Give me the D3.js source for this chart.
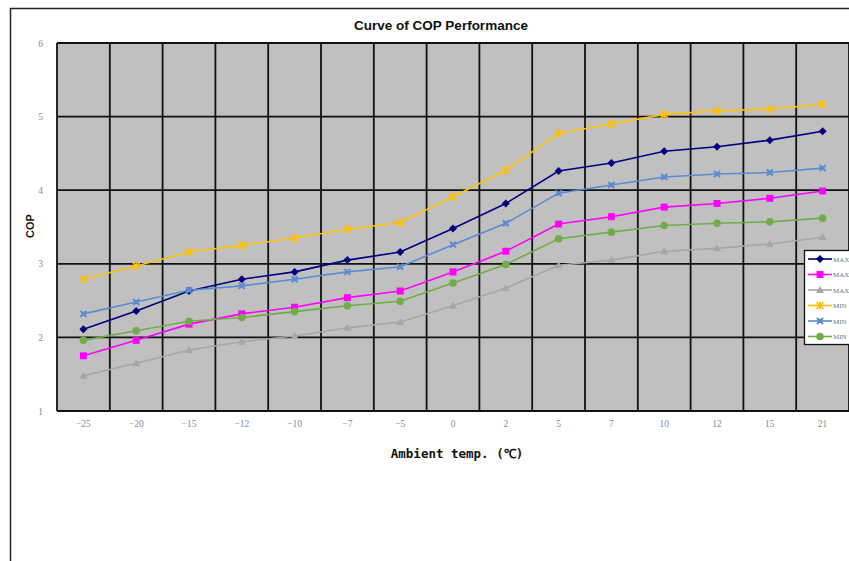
<!DOCTYPE html>
<html><head><meta charset="utf-8">
<script src="https://cdn.jsdelivr.net/npm/d3@7"></script>
<style>body{margin:0;background:#fff}svg{display:block}</style>
</head><body>
<svg id="c" width="849" height="561"></svg>
<script>
const categories = ["-25","-20","-15","-12","-10","-7","-5","0","2","5","7","10","12","15","21"];
const seriesNames = ["MAX","MAX","MAX","MIN","MIN","MIN"];
const seriesColors = ["#000080","#ff00ff","#a6a6a6","#ffc000","#5b8bd0","#70ad47"];
const seriesMarkers = ["diamond","square","triangle","star","cross","circle"];
const maxNavy  = [2.11,2.36,2.63,2.79,2.89,3.05,3.16,3.48,3.82,4.26,4.37,4.53,4.59,4.68,4.80];
const maxPink  = [1.75,1.96,2.18,2.32,2.41,2.54,2.63,2.89,3.17,3.54,3.64,3.77,3.82,3.89,3.99];
const maxGray  = [1.48,1.65,1.83,1.94,2.02,2.13,2.21,2.43,2.67,2.98,3.05,3.17,3.21,3.27,3.36];
const minGold  = [2.79,2.97,3.16,3.25,3.35,3.47,3.56,3.91,4.27,4.77,4.90,5.03,5.08,5.10,5.17];
const minBlue  = [2.32,2.48,2.64,2.70,2.79,2.89,2.96,3.26,3.55,3.96,4.07,4.18,4.22,4.24,4.30];
const minGreen = [1.96,2.09,2.22,2.27,2.35,2.43,2.49,2.74,2.99,3.34,3.43,3.52,3.55,3.57,3.62];
const yTicks = [1,2,3,4,5,6];
const series = [maxNavy,maxPink,maxGray,minGold,minBlue,minGreen];

const svg = d3.select("#c");
const L=57, R=849, T=43, B=411;

svg.append("path").attr("d","M10.5,561 V8.5 H849").attr("fill","none").attr("stroke","#222").attr("stroke-width",1.5);

const x = d3.scaleBand().domain(categories).range([L,R]);
const y = d3.scaleLinear().domain([1,6]).range([B,T]);

svg.append("rect").attr("x",L).attr("y",T).attr("width",R-L).attr("height",B-T).attr("fill","#c0c0c0");

const g = svg.append("g");
g.selectAll("line.h").data(yTicks).join("line")
  .attr("x1",L).attr("x2",R).attr("y1",d=>y(d)).attr("y2",d=>y(d))
  .attr("stroke","#111").attr("stroke-width",1.8);
const bounds = categories.map(c=>x(c)).concat([R]);
g.selectAll("line.v").data(bounds).join("line")
  .attr("x1",d=>d).attr("x2",d=>d).attr("y1",T).attr("y2",B)
  .attr("stroke","#111").attr("stroke-width",1.8);

const yAxis = d3.axisLeft(y).tickValues(yTicks).tickSize(0).tickPadding(14).tickFormat(d3.format("d"));
svg.append("g").attr("transform",`translate(${L},0)`).call(yAxis)
  .call(s=>s.select(".domain").remove())
  .selectAll("text").attr("font-family","Liberation Serif, serif").attr("font-size",9.5).attr("fill","#8088a0");
const xAxis = d3.axisBottom(x).tickSize(0).tickPadding(9).tickFormat(d=>d.replace("-","\u2212"));
svg.append("g").attr("transform",`translate(0,${B})`).call(xAxis)
  .call(s=>s.select(".domain").remove())
  .selectAll("text").attr("font-family","Liberation Serif, serif").attr("font-size",9.5).attr("fill","#8a8a9a");

const line = d3.line().x((d,i)=>x(categories[i])+x.bandwidth()/2).y(d=>y(d));
function marker(sel, type, color){
  const s=4;
  if(type==="diamond") sel.append("path").attr("d",`M0,${-s}L${s},0L0,${s}L${-s},0Z`).attr("fill",color);
  else if(type==="square") sel.append("rect").attr("x",-3.5).attr("y",-3.5).attr("width",7).attr("height",7).attr("fill",color);
  else if(type==="triangle") sel.append("path").attr("d",`M0,-4L4,3L-4,3Z`).attr("fill",color);
  else if(type==="star") sel.append("path").attr("d","M-3.5,-3.5L3.5,3.5M-3.5,3.5L3.5,-3.5M0,-4V4").attr("stroke",color).attr("stroke-width",1.6);
  else if(type==="cross"){ sel.append("path").attr("d","M-3,-3L3,3M-3,3L3,-3").attr("stroke",color).attr("stroke-width",2);
    sel.append("rect").attr("x",-2).attr("y",-2).attr("width",4).attr("height",4).attr("fill",color);}
  else if(type==="circle") sel.append("circle").attr("r",3.8).attr("fill",color);
}
series.forEach((vals,k)=>{
  svg.append("path").datum(vals).attr("d",line).attr("fill","none")
    .attr("stroke",seriesColors[k]).attr("stroke-width",1.6);
  vals.forEach((v,i)=>{
    const m = svg.append("g").attr("transform",`translate(${x(categories[i])+x.bandwidth()/2},${y(v)})`);
    marker(m, seriesMarkers[k], seriesColors[k]);
  });
});

svg.append("text").attr("x",441).attr("y",30).attr("text-anchor","middle")
  .attr("font-family","Liberation Sans, Arial, sans-serif").attr("font-weight","bold").attr("font-size",13.5).attr("fill","#111")
  .text("Curve of COP Performance");
svg.append("text").attr("transform","translate(34,226) rotate(-90)").attr("text-anchor","middle")
  .attr("font-family","Liberation Sans, Arial, sans-serif").attr("font-weight","bold").attr("font-size",11).attr("fill","#111")
  .text("COP");
svg.append("text").attr("x",457).attr("y",458).attr("text-anchor","middle")
  .attr("font-family","DejaVu Sans Mono, monospace").attr("font-weight","bold").attr("font-size",12.5).attr("fill","#111")
  .text("Ambient temp. (\u2103)");

const lg = svg.append("g");
lg.append("rect").attr("x",804.5).attr("y",250.5).attr("width",50).attr("height",94).attr("fill","#fff").attr("stroke","#111").attr("stroke-width",1.3);
seriesNames.forEach((n,k)=>{
  const yy = 259 + k*15.5;
  lg.append("line").attr("x1",808).attr("x2",832).attr("y1",yy).attr("y2",yy).attr("stroke",seriesColors[k]).attr("stroke-width",1.6);
  marker(lg.append("g").attr("transform",`translate(820,${yy})`), seriesMarkers[k], seriesColors[k]);
  lg.append("text").attr("x",833).attr("y",yy+2.5).attr("font-family","Liberation Serif, serif").attr("font-size",7).attr("fill","#777").text(n);
});
</script>
</body></html>
